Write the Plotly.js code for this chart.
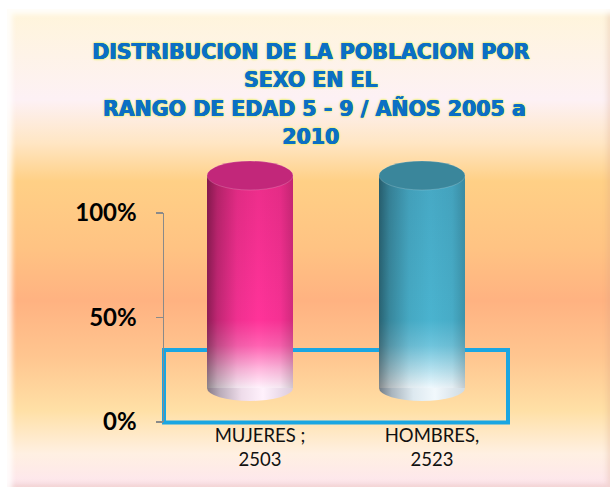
<!DOCTYPE html>
<html><head><meta charset="utf-8">
<script src="https://cdn.plot.ly/plotly-3.0.1.min.js"></script>
<style>
html,body{margin:0;padding:0;background:#fff;width:613px;height:487px;overflow:hidden}
#bg{position:absolute;left:7px;top:9px;width:603px;height:478px;
background:linear-gradient(to bottom,#fff5da 0%,#fdf1f5 19%,#ffe6c4 28%,#ffd086 36%,#ffc383 50%,#ffb281 61%,#ffc690 73%,#ffe0a6 84%,#fff0e2 93%,#fde5ee 100%);
box-shadow: inset 5px 5px 5px rgba(255,255,255,0.85), inset -3px -3px 5px rgba(210,160,130,0.25);}
#chart{position:absolute;left:0;top:0;width:613px;height:487px}
</style></head>
<body>
<div id="bg"></div>
<div id="chart"></div>
<script>
// ---- data ----
const categories = ['MUJERES ;', 'HOMBRES,'];
const counts = [2503, 2523];
const barColors = ['#ff3399', '#4ab3cf'];
const capColors = ['#c2277a', '#3a869b'];
const yTickVals = [0, 50, 100];
const yTickText = ['0%', '50%', '100%'];
const titleText = 'DISTRIBUCION DE LA POBLACION POR<br>SEXO EN EL<br> RANGO DE EDAD 5 - 9 / AÑOS 2005 a<br>2010';

const tickText = categories.map((c, i) => c + '<br>' + counts[i]);

const barWidth = 0.5;
const hw = barWidth / 2;
const fullStack = 100; // top of a 100% stacked column

const shapes = [
  {type:'rect', xref:'paper', yref:'paper', x0:0, x1:1, y0:-0.002, y1:0.265,
   line:{color:'#1aa6e2', width:4}, fillcolor:'rgba(0,0,0,0)', layer:'below'}
];
categories.forEach((c, i) => {
  shapes.push({type:'circle', xref:'x', yref:'y2', x0:i - hw, x1:i + hw,
    ysizemode:'pixel', yanchor:0, y0:-13, y1:13,
    fillcolor:'#f4e8f2', line:{width:0}, layer:'below'});
});
categories.forEach((c, i) => {
  shapes.push({type:'circle', xref:'x', yref:'y2', x0:i - hw, x1:i + hw,
    ysizemode:'pixel', yanchor:fullStack, y0:-14.5, y1:14.5,
    fillcolor:capColors[i], line:{width:1, color:'rgba(255,255,255,0.18)'}, layer:'above'});
});

const data = [
  {type:'bar', x:categories, y:counts, xaxis:'x', yaxis:'y2',
   marker:{color:barColors, line:{width:0}}, hoverinfo:'skip', width:barWidth},
  {type:'scatter', mode:'markers', x:categories, y:[fullStack, fullStack], xaxis:'x', yaxis:'y',
   marker:{opacity:0}, hoverinfo:'skip', showlegend:false}
];

const layout = {
  width:613, height:487,
  margin:{l:164, r:105, t:150, b:65},
  paper_bgcolor:'rgba(0,0,0,0)', plot_bgcolor:'rgba(0,0,0,0)',
  showlegend:false,
  barmode:'stack', barnorm:'percent',
  title:{text:titleText, xref:'container', yref:'container', x:0.507, y:1 - 59/487,
    xanchor:'center', yanchor:'top',
    font:{family:'DejaVu Sans', size:20.5, weight:'bold', color:'#0b6fc4',
      shadow:'0.5px 0 0 #0b6fc4, -0.5px 0 0 #0b6fc4, 0 0 1.5px #e8f060, 0 0 2px #e8f060, 0 0 3px #e8f060'}},
  xaxis:{type:'category', range:[-0.5, 1.5], anchor:'y', showline:false, ticks:'',
    showgrid:false, zeroline:false, tickvals:categories, ticktext:tickText,
    tickfont:{family:'Lato', size:18.5, color:'#111'}, ticklabelshift:10},
  yaxis:{range:[0, 100], domain:[0, 209/272], anchor:'x', showline:true, linecolor:'#8a8a8a',
    linewidth:1.5, ticks:'outside', ticklen:7, tickcolor:'#8a8a8a', tickwidth:1.5,
    showgrid:false, zeroline:false, tickvals:yTickVals, ticktext:yTickText,
    tickfont:{family:'Lato', size:24, weight:'bold', color:'#000'}, ticklabelstandoff:14},
  yaxis2:{range:[-16, 112], domain:[0, 1], anchor:'x', visible:false,
    showgrid:false, zeroline:false},
  shapes:shapes
};

function addGrad(defs, id, attrs, stops) {
  const ns = 'http://www.w3.org/2000/svg';
  const g = document.createElementNS(ns, 'linearGradient');
  g.setAttribute('id', id);
  Object.keys(attrs).forEach(k => g.setAttribute(k, attrs[k]));
  stops.forEach(s => {
    const st = document.createElementNS(ns, 'stop');
    st.setAttribute('offset', s[0]);
    st.setAttribute('stop-color', s[1]);
    st.setAttribute('stop-opacity', s[2] === undefined ? 1 : s[2]);
    g.appendChild(st);
  });
  defs.appendChild(g);
}

Plotly.newPlot('chart', data, layout, {staticPlot:true}).then(gd => {
  const svg = gd.querySelector('svg.main-svg');
  let defs = svg.querySelector('defs');
  if (!defs) { defs = document.createElementNS('http://www.w3.org/2000/svg', 'defs'); svg.insertBefore(defs, svg.firstChild); }
  const V = {x1:0, y1:0, x2:0, y2:1};
  const H = {x1:0, y1:0, x2:1, y2:0};
  addGrad(defs, 'bodyV0', V, [[0,'#ec2d8a'],[0.68,'#ff3399'],[0.8,'#ff62b2'],[0.91,'#ffb8de'],[1,'#fff2fc']]);
  addGrad(defs, 'bodyV1', V, [[0,'#46a8c4'],[0.68,'#4ab3cf'],[0.8,'#6fc4dc'],[0.91,'#b3e0ee'],[1,'#eff8fd']]);
  addGrad(defs, 'shadeH', H, [[0,'#000',0.45],[0.12,'#000',0.25],[0.35,'#000',0.06],[0.6,'#000',0],[0.85,'#000',0.04],[1,'#000',0.18]]);
  addGrad(defs, 'bot0', H, [[0,'#857885'],[0.15,'#b9abb9'],[0.4,'#eedcea'],[0.65,'#fff1fc'],[1,'#dccbdc']]);
  addGrad(defs, 'bot1', H, [[0,'#717c86'],[0.15,'#a9b5be'],[0.4,'#dde9f0'],[0.65,'#f1f8fc'],[1,'#cfdbe3']]);

  const bars = gd.querySelectorAll('.barlayer .point path');
  bars.forEach((p, i) => {
    p.style.fill = 'url(#bodyV' + i + ')';
    const c = p.cloneNode(true);
    c.style.fill = 'url(#shadeH)';
    c.style.fillOpacity = 1;
    p.parentNode.insertBefore(c, p.nextSibling);
  });
  gd.querySelectorAll('.shapelayer path[data-index]').forEach(p => {
    const k = +p.getAttribute('data-index');
    if (k === 1 || k === 2) p.style.fill = 'url(#bot' + (k - 1) + ')';
  });
  // widen title line spacing to match reference (dy is measured from the first line)
  gd.querySelectorAll('.gtitle tspan.line').forEach((t, i) => {
    if (i > 0) t.setAttribute('dy', (i * 1.39).toFixed(2) + 'em');
  });
});
</script>
</body></html>
